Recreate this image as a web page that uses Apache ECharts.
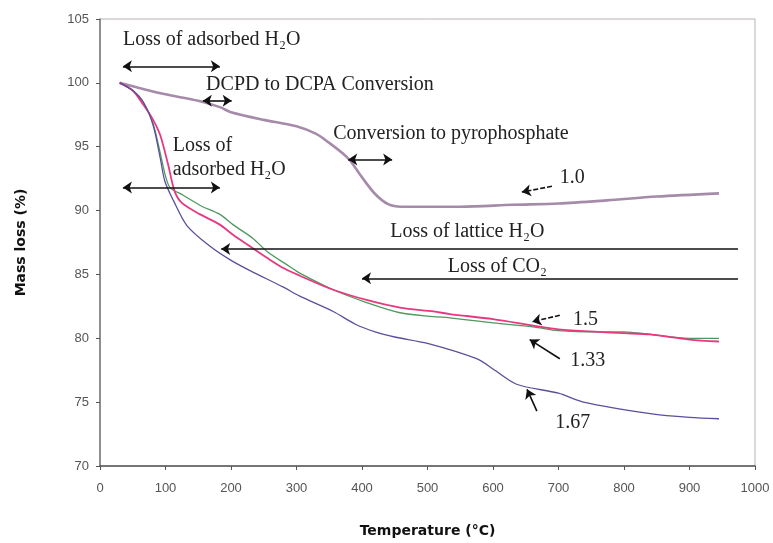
<!DOCTYPE html>
<html>
<head>
<meta charset="utf-8">
<script src="https://cdn.jsdelivr.net/npm/echarts@6/dist/echarts.min.js"></script>
<style>
    html, body { margin: 0; padding: 0; background: #fff; }
    #main { width: 773px; height: 543px; }
</style>
</head>
<body>
<div id="main"></div>
<script>
// 温度 (°C) 与 质量 (%)，按曲线分开
var t10 = [30, 60, 100, 150, 183, 200, 250, 300, 330, 350, 370, 382, 400, 420, 440, 460, 550, 630, 700, 774, 850, 945];
var m10 = [100.0, 99.6, 99.1, 98.6, 98.1, 97.7, 97.1, 96.6, 96.0, 95.3, 94.5, 93.9, 92.6, 91.3, 90.5, 90.3, 90.3, 90.45, 90.55, 90.8, 91.1, 91.35];

var t133 = [30, 50, 66, 81, 92, 100, 107, 127, 153, 183, 203, 234, 255, 290, 305, 356, 407, 458, 509, 534, 600, 661, 700, 760, 800, 840, 900, 945];
var m133 = [100.0, 99.4, 98.5, 96.8, 94.5, 92.7, 91.8, 91.2, 90.4, 89.7, 88.9, 87.8, 86.8, 85.6, 85.1, 83.8, 82.8, 82.0, 81.7, 81.6, 81.2, 80.9, 80.6, 80.5, 80.5, 80.3, 80.0, 80.0];

var t15 = [30, 50, 66, 80, 92, 104, 114, 125, 153, 183, 203, 229, 255, 280, 305, 356, 407, 458, 509, 534, 600, 661, 700, 760, 800, 840, 900, 945];
var m15 = [100.0, 99.4, 98.3, 97.2, 95.9, 93.6, 91.5, 90.6, 89.7, 88.9, 88.1, 87.2, 86.3, 85.5, 84.9, 83.8, 83.0, 82.4, 82.1, 81.9, 81.5, 81.0, 80.7, 80.5, 80.4, 80.3, 79.9, 79.75];

var t167 = [30, 50, 66, 81, 92, 99, 112, 133, 168, 200, 229, 280, 305, 356, 390, 420, 450, 500, 575, 600, 636, 700, 738, 840, 900, 945];
var m167 = [100.0, 99.4, 98.5, 96.7, 94.1, 92.3, 90.8, 88.8, 87.2, 86.1, 85.3, 84.0, 83.3, 82.1, 81.1, 80.5, 80.1, 79.6, 78.4, 77.6, 76.4, 75.7, 75.0, 74.1, 73.8, 73.7];

var xTicks = [0, 100, 200, 300, 400, 500, 600, 700, 800, 900, 1000];
var yTicks = [70, 75, 80, 85, 90, 95, 100, 105];

// 箭头 [起点T, 起点m, 终点T, 终点m, 起点箭头, 终点箭头, 虚线]
var arrows = [
    [35, 101.3, 183, 101.3, 1, 1, 0],
    [157, 98.6, 201, 98.6, 1, 1, 0],
    [379, 94.0, 446, 94.0, 1, 1, 0],
    [35, 91.8, 183, 91.8, 1, 1, 0],
    [974, 87.0, 185, 87.0, 0, 1, 0],
    [974, 84.7, 400, 84.7, 0, 1, 0],
    [690, 91.9, 644, 91.45, 0, 1, 1],
    [702, 81.8, 660, 81.3, 0, 1, 1],
    [702, 78.4, 656, 79.9, 0, 1, 0],
    [667, 74.3, 652, 76.0, 0, 1, 0]
];

// 注释文字 [T, m, 文字]
var notes = [
    [35, 103.3, 'Loss of adsorbed H₂O'],
    [162, 99.8, 'DCPD to DCPA Conversion'],
    [356, 95.9, 'Conversion to pyrophosphate'],
    [111, 95.0, 'Loss of'],
    [111, 93.1, 'adsorbed H₂O'],
    [443, 88.3, 'Loss of lattice H₂O'],
    [531, 85.5, 'Loss of CO₂'],
    [702, 92.5, '1.0'],
    [722, 81.4, '1.5'],
    [718, 78.2, '1.33'],
    [695, 73.3, '1.67']
];

function pairs(t, m) {
    var out = [];
    for (var i = 0; i < t.length; i++) {
        out.push([t[i], m[i]]);
    }
    return out;
}

var arrowData = [];
for (var i = 0; i < arrows.length; i++) {
    var a = arrows[i];
    arrowData.push([
        { coord: [a[0], a[1]], symbol: a[4] ? 'arrow' : 'none', symbolSize: 9,
          lineStyle: { type: a[6] ? [5, 2] : 'solid' } },
        { coord: [a[2], a[3]], symbol: a[5] ? 'arrow' : 'none', symbolSize: 9 }
    ]);
}

var chart = echarts.init(document.getElementById('main'));
var tickFont = { color: '#555', fontSize: 13, fontFamily: 'Liberation Sans' };
var nameFont = { fontWeight: 'bold', fontSize: 14, color: '#111', fontFamily: 'DejaVu Sans' };

var option = {
    animation: false,
    backgroundColor: '#fff',
    grid: {
        left: 100, right: 18, top: 19, bottom: 73,
        show: true, borderColor: '#b8b0b8', borderWidth: 1
    },
    xAxis: {
        type: 'value',
        min: xTicks[0], max: xTicks[xTicks.length - 1], interval: 100,
        name: 'Temperature (°C)',
        nameLocation: 'middle', nameGap: 58,
        nameTextStyle: nameFont,
        axisLine: { lineStyle: { color: '#555', width: 1.5 } },
        axisTick: { length: 4, lineStyle: { color: '#555' } },
        axisLabel: Object.assign({ margin: 16, formatter: function (v) { return String(v); } }, tickFont),
        splitLine: { show: false }
    },
    yAxis: {
        type: 'value',
        min: yTicks[0], max: yTicks[yTicks.length - 1], interval: 5,
        name: 'Mass loss (%)',
        nameLocation: 'middle', nameGap: 72,
        nameTextStyle: nameFont,
        axisLine: { show: true, lineStyle: { color: '#777', width: 1.5 } },
        axisTick: { show: true, length: 4, lineStyle: { color: '#555' } },
        axisLabel: Object.assign({ margin: 11 }, tickFont),
        splitLine: { show: false }
    },
    series: [{
        name: '1.0', type: 'line', data: pairs(t10, m10), showSymbol: false, smooth: 0.3,
        lineStyle: { color: '#a68aa9', width: 2.6 }
    }, {
        name: '1.33', type: 'line', data: pairs(t133, m133), showSymbol: false, smooth: 0.3,
        lineStyle: { color: '#4e9a5c', width: 1.3 }
    }, {
        name: '1.5', type: 'line', data: pairs(t15, m15), showSymbol: false, smooth: 0.3,
        lineStyle: { color: '#e8387f', width: 1.8 }
    }, {
        name: '1.67', type: 'line', data: pairs(t167, m167), showSymbol: false, smooth: 0.3,
        lineStyle: { color: '#5b4f9c', width: 1.3 }
    }, {
        name: 'arrows', type: 'line', data: [],
        markLine: {
            silent: true,
            symbol: ['none', 'arrow'],
            label: { show: false },
            lineStyle: { color: '#111', width: 1.6, type: 'solid' },
            data: arrowData
        }
    }]
};
chart.setOption(option);

//注释文字
var texts = [];
for (var j = 0; j < notes.length; j++) {
    var p = chart.convertToPixel({ gridIndex: 0 }, [notes[j][0], notes[j][1]]);
    texts.push({
        type: 'text', left: p[0], top: p[1] - 11,
        style: {
            text: notes[j][2], fill: '#222',
            font: '20px "Liberation Serif", "DejaVu Serif", serif'
        }
    });
}
chart.setOption({ graphic: texts });
</script>
</body>
</html>
